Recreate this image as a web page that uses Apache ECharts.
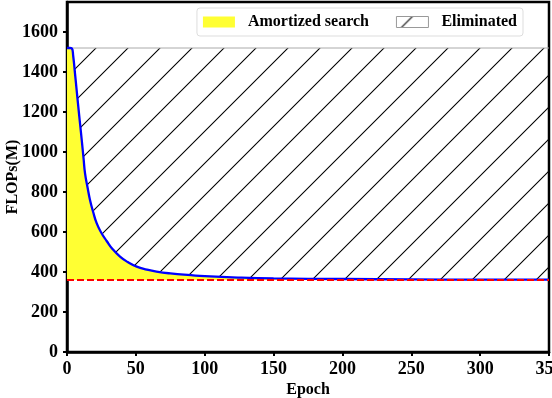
<!DOCTYPE html>
<html>
<head>
<meta charset="utf-8">
<script src="https://cdn.jsdelivr.net/npm/echarts@6/dist/echarts.min.js"></script>
<style>
  html, body { margin: 0; padding: 0; background: #fff; }
  #chart { width: 552px; height: 398px; }
</style>
</head>
<body>
<div id="chart"></div>
<script>
// values
var epochs = [0, 2, 3.5, 4.5, 5.8, 7, 8.2, 9.5, 10.7, 12, 13.1, 15, 16.7, 19, 21.6, 25, 28.8, 33, 38.5, 44, 50.6, 58, 65, 75, 90, 100, 125, 150, 200, 250, 300, 350]
var flops = [1520, 1520, 1518, 1480, 1393, 1310, 1227, 1140, 1060, 970, 893, 820, 760, 700, 643, 595, 555, 515, 477, 450, 427, 412, 402, 393, 384, 379, 372, 368, 365, 363, 362, 362]
var baselineFlops = 360
var eliminatedTop = 1520
var eliminatedRange = [4, 350]
var xTicks = [0, 50, 100, 150, 200, 250, 300, 350]
var yTicks = [0, 200, 400, 600, 800, 1000, 1200, 1400, 1600]

var FONT = 'Liberation Serif'

function hatchCanvas() {
  var c = document.createElement('canvas')
  c.width = 32
  c.height = 32
  var ctx = c.getContext('2d')
  ctx.strokeStyle = '#000'
  ctx.lineWidth = 1.1
  ctx.beginPath()
  ctx.moveTo(-4, 20); ctx.lineTo(20, -4)
  ctx.moveTo(12, 36); ctx.lineTo(36, 12)
  ctx.stroke()
  return c
}
var hatch = { image: hatchCanvas(), repeat: 'repeat' }

var curve = epochs.map(function (e, i) { return [e, flops[i]] })
var elimLine = eliminatedRange.map(function (e) { return [e, eliminatedTop] })
var baseLine = [[xTicks[0], baselineFlops], [xTicks[xTicks.length - 1], baselineFlops]]

var plain = function (v) { return String(v) }

var chart = echarts.init(document.getElementById('chart'))
chart.setOption({
  animation: false,
  grid: {
    left: 67,
    right: 3,
    top: 2,
    bottom: 46,
    outerBoundsMode: 'none',
    containLabel: false,
    show: true,
    borderColor: '#000',
    borderWidth: 2.5
  },
  legend: {
    right: 29,
    top: 8,
    padding: [6, 6, 6, 6],
    itemGap: 27,
    itemWidth: 32,
    itemHeight: 11,
    borderColor: '#ddd',
    borderWidth: 1,
    borderRadius: 3,
    textStyle: {
      fontFamily: FONT,
      fontWeight: 'bold',
      fontSize: 16,
      color: '#000',
      padding: [0, 0, 0, 8]
    },
    data: [
      { name: 'Amortized search', icon: 'rect', itemStyle: { color: '#ffff33', borderWidth: 0 } },
      { name: 'Eliminated', icon: 'rect', itemStyle: { color: hatch, borderColor: '#999', borderWidth: 1 } }
    ]
  },
  xAxis: {
    type: 'value',
    min: 0,
    max: 350,
    interval: 50,
    name: 'Epoch',
    nameLocation: 'middle',
    nameGap: 30,
    nameMoveOverlap: false,
    nameTextStyle: { fontFamily: FONT, fontWeight: 'bold', fontSize: 16, color: '#000' },
    splitLine: { show: false },
    axisLine: { lineStyle: { color: '#000', width: 2.5 } },
    axisTick: { length: 4, lineStyle: { color: '#000', width: 2 } },
    axisLabel: { margin: 8, formatter: plain, fontFamily: FONT, fontWeight: 'bold', fontSize: 18, color: '#000' }
  },
  yAxis: {
    type: 'value',
    min: 0,
    max: 1750,
    name: 'FLOPs(M)',
    nameLocation: 'middle',
    nameGap: 46,
    nameMoveOverlap: false,
    nameTextStyle: { fontFamily: FONT, fontWeight: 'bold', fontSize: 16, color: '#000' },
    splitLine: { show: false },
    axisLine: { show: true, lineStyle: { color: '#000', width: 2.5 } },
    axisTick: { show: true, length: 4, customValues: yTicks, lineStyle: { color: '#000', width: 2 } },
    axisLabel: { margin: 9, customValues: yTicks, formatter: plain, fontFamily: FONT, fontWeight: 'bold', fontSize: 18, color: '#000' }
  },
  series: [
    {
      name: 'Eliminated',
      type: 'line',
      data: elimLine,
      symbol: 'none',
      lineStyle: { color: '#aaa', width: 1 },
      itemStyle: { color: '#aaa' },
      areaStyle: { color: hatch, opacity: 1, origin: baselineFlops },
      z: 1
    },
    {
      name: 'Amortized search',
      type: 'line',
      data: curve,
      symbol: 'none',
      smooth: 0.5,
      lineStyle: { color: '#0000ff', width: 2.3 },
      itemStyle: { color: '#ffff33' },
      areaStyle: { color: '#ffff33', opacity: 1, origin: baselineFlops },
      z: 2
    },
    {
      name: 'baseline',
      type: 'line',
      data: baseLine,
      symbol: 'none',
      lineStyle: { color: '#ff0000', width: 2, type: [7, 3] },
      z: 3
    }
  ]
})
</script>
</body>
</html>
